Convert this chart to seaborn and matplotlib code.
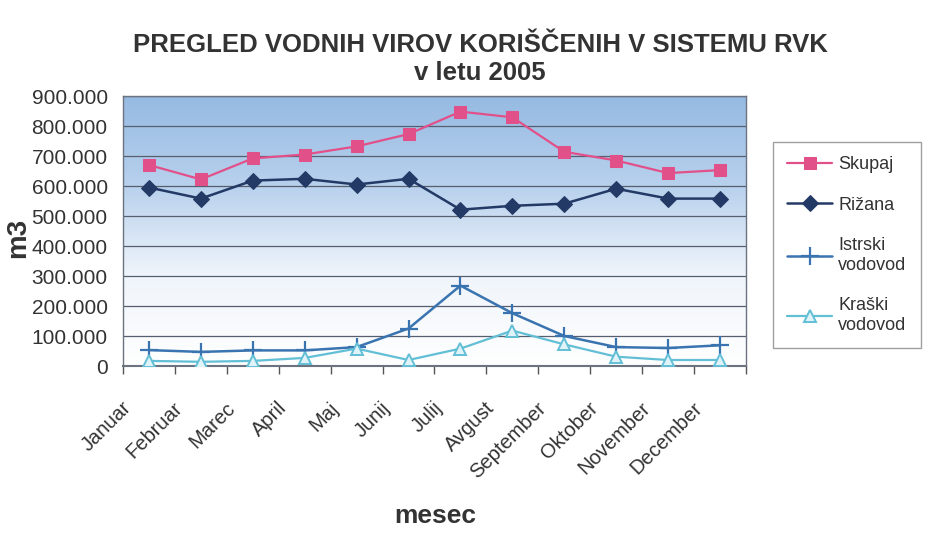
import numpy as np
import pandas as pd
import matplotlib.pyplot as plt
import matplotlib.ticker as mticker
import matplotlib.transforms as mtransforms
from matplotlib.colors import LinearSegmentedColormap
import seaborn as sns

# data (m3 per month)
months = ['Januar', 'Februar', 'Marec', 'April', 'Maj', 'Junij', 'Julij',
          'Avgust', 'September', 'Oktober', 'November', 'December']
skupaj = [670000, 622000, 692000, 705000, 732000, 773000, 848000, 829000, 714000, 685000, 643000, 653000]
rizana = [595000, 558000, 618000, 624000, 605000, 624000, 521000, 534000, 541000, 591000, 558000, 558000]
istrski = [53000, 47000, 52000, 52000, 63000, 125000, 268000, 176000, 100000, 63000, 60000, 69000]
kraski = [17000, 14000, 17000, 27000, 58000, 20000, 58000, 118000, 72000, 31000, 20000, 20000]

x = np.arange(len(months))

sns.set_style('white')
plt.rcParams['font.family'] = ['Liberation Sans', 'DejaVu Sans']

fig = plt.figure(figsize=(9.29, 5.33), dpi=100)
ax = fig.add_axes([123 / 929, 1 - 366 / 533, 623 / 929, 270 / 533])

# blue-to-white gradient background like the Excel chart
grad = LinearSegmentedColormap.from_list('bg', ['#ffffff', '#f0f5fb', '#b8d1ed', '#96bae2'])
ax.imshow(np.linspace(0, 1, 256).reshape(-1, 1), cmap=grad, aspect='auto',
          extent=[-0.5, 11.5, 0, 900000], origin='lower', zorder=0)

for v in range(100000, 900001, 100000):
    ax.axhline(v, color='#555f6e', lw=0.9, zorder=1)

sns.lineplot(x=x, y=skupaj, ax=ax, color='#e2508a', marker='s', markersize=9,
             markeredgecolor='#e2508a', lw=1.6, label='Skupaj', zorder=5)
sns.lineplot(x=x, y=rizana, ax=ax, color='#243a66', marker='D', markersize=8,
             markeredgecolor='#243a66', lw=1.8, label='Rižana', zorder=5)
sns.lineplot(x=x, y=istrski, ax=ax, color='#3a74b0', marker='+', markersize=13,
             markeredgecolor='#3a74b0', markeredgewidth=1.6, lw=1.8,
             label='Istrski\nvodovod', zorder=4)
sns.lineplot(x=x, y=kraski, ax=ax, color='#62bfd6', marker='^', markersize=9,
             markerfacecolor='#dff3f8', markeredgecolor='#62bfd6', markeredgewidth=1.4,
             lw=1.6, label='Kraški\nvodovod', zorder=4)

ax.set_xlim(-0.5, 11.5)
ax.set_ylim(0, 900000)
ax.yaxis.set_major_locator(mticker.MultipleLocator(100000))
ax.yaxis.set_major_formatter(mticker.FuncFormatter(lambda v, p: f'{int(v):,}'.replace(',', '.')))

# month labels: rotated, ending a bit left of and below each category (Excel style)
ax.set_xticks(x)
ax.set_xticklabels([])
offset = mtransforms.ScaledTranslation(-21 / 100, -39 / 100, fig.dpi_scale_trans)
for xi, m in zip(x, months):
    ax.text(xi, 0, m, transform=ax.get_xaxis_transform() + offset, rotation=45,
            ha='right', va='center', rotation_mode='anchor', fontsize=14.5, color='#333333')

ax.xaxis.set_minor_locator(mticker.FixedLocator(np.arange(-0.5, 12, 1)))
ax.tick_params(axis='x', which='major', length=0)
ax.tick_params(axis='x', which='minor', bottom=True, length=6, width=1,
               color='#555555', direction='out')
ax.tick_params(axis='y', labelsize=15, length=0, pad=11, colors='#333333')
for s in ax.spines.values():
    s.set_color('#6b7280')
    s.set_linewidth(1)
ax.spines['bottom'].set_linewidth(1.5)

ax.set_ylabel('')
fig.text(18 / 929, 1 - 238 / 533, 'm3', rotation=90, ha='center', va='center',
         fontsize=20, fontweight='bold', color='#333333')
fig.text(435 / 929, 1 - 516 / 533, 'mesec', ha='center', va='center',
         fontsize=19, fontweight='bold', color='#333333')

fig.text(0.517, 1 - 45 / 533, 'PREGLED VODNIH VIROV KORIŠČENIH V SISTEMU RVK',
         ha='center', va='center', fontsize=18.5, fontweight='bold', color='#333333')
fig.text(0.517, 1 - 73 / 533, 'v letu 2005', ha='center', va='center',
         fontsize=18.5, fontweight='bold', color='#333333')

h, l = ax.get_legend_handles_labels()
ax.legend_.remove()
leg = fig.legend(h, l, loc='upper left', bbox_to_anchor=(773 / 929, 1 - 142 / 533),
                 borderaxespad=0, frameon=True, fancybox=False, fontsize=13,
                 labelspacing=1.3, handlelength=2.5, handletextpad=0.33, borderpad=0.78)
leg.get_frame().set_edgecolor('#888888')
leg.get_frame().set_linewidth(1)
for t in leg.get_texts():
    t.set_color('#333333')

fig.savefig('out.png', dpi=100)
